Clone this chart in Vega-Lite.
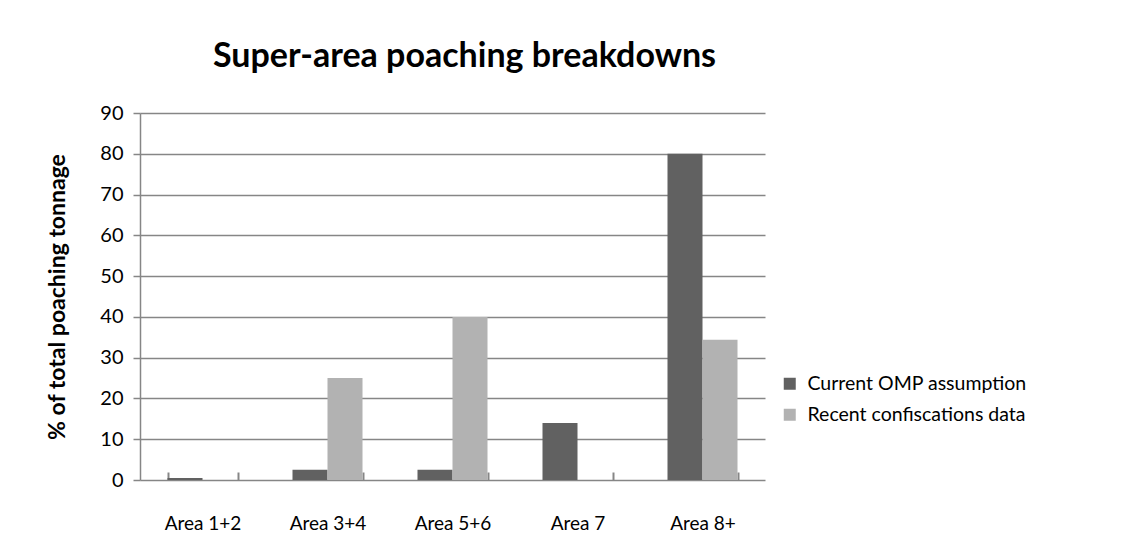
{
  "$schema": "https://vega.github.io/schema/vega-lite/v6.json",
  "width": 625,
  "height": 367,
  "autosize": {"type": "none"},
  "padding": {"left": 140, "top": 113, "right": 357, "bottom": 80},
  "background": "white",
  "title": {
    "text": "Super-area poaching breakdowns",
    "font": "Lato",
    "fontSize": 34,
    "fontWeight": "bold",
    "color": "#000000",
    "anchor": "middle",
    "dx": 12,
    "offset": 29
  },
  "data": {
    "values": [
      {"area": "Area 1+2", "series": "Current OMP assumption", "value": 0.5},
      {"area": "Area 1+2", "series": "Recent confiscations data", "value": 0},
      {"area": "Area 3+4", "series": "Current OMP assumption", "value": 2.5},
      {"area": "Area 3+4", "series": "Recent confiscations data", "value": 25},
      {"area": "Area 5+6", "series": "Current OMP assumption", "value": 2.5},
      {"area": "Area 5+6", "series": "Recent confiscations data", "value": 40},
      {"area": "Area 7", "series": "Current OMP assumption", "value": 14},
      {"area": "Area 7", "series": "Recent confiscations data", "value": 0},
      {"area": "Area 8+", "series": "Current OMP assumption", "value": 80},
      {"area": "Area 8+", "series": "Recent confiscations data", "value": 34.4}
    ]
  },
  "mark": {"type": "bar", "stroke": null},
  "encoding": {
    "x": {
      "field": "area",
      "type": "nominal",
      "sort": null,
      "title": null,
      "scale": {"paddingInner": 0.44, "paddingOuter": 0.22},
      "axis": {
        "labelAngle": 0,
        "labelFont": "Lato",
        "labelFontSize": 19,
        "labelColor": "#000000",
        "labelPadding": 34,
        "offset": -8,
        "domain": false,
        "tickColor": "#868686",
        "tickWidth": 2,
        "tickBand": "extent",
        "tickSize": 8,
        "grid": false
      }
    },
    "xOffset": {"field": "series", "type": "nominal", "scale": {"paddingInner": 0, "paddingOuter": 0}},
    "y": {
      "field": "value",
      "type": "quantitative",
      "scale": {"domain": [0, 90]},
      "title": "% of total poaching  tonnage",
      "axis": {
        "values": [0, 10, 20, 30, 40, 50, 60, 70, 80, 90],
        "labelFont": "Lato",
        "labelFontSize": 20,
        "labelColor": "#000000",
        "labelPadding": 10,
        "titleFont": "Lato",
        "titleFontSize": 23,
        "titleFontWeight": "bold",
        "titleColor": "#000000",
        "titlePadding": 30,
        "domainColor": "#868686",
        "domainWidth": 1.5,
        "tickColor": "#868686",
        "tickWidth": 1.5,
        "tickSize": 7,
        "gridColor": "#868686",
        "gridWidth": 1.5
      }
    },
    "color": {
      "field": "series",
      "type": "nominal",
      "scale": {"range": ["#616161", "#b2b2b2"]},
      "legend": {
        "title": null,
        "orient": "none",
        "legendX": 640,
        "legendY": 261,
        "symbolType": "square",
        "symbolSize": 144,
        "symbolStrokeWidth": 0,
        "labelFont": "Lato",
        "labelFontSize": 19.5,
        "labelColor": "#000000",
        "labelLimit": 400,
        "rowPadding": 10,
        "labelOffset": 8
      }
    }
  },
  "config": {"view": {"stroke": null}}
}
